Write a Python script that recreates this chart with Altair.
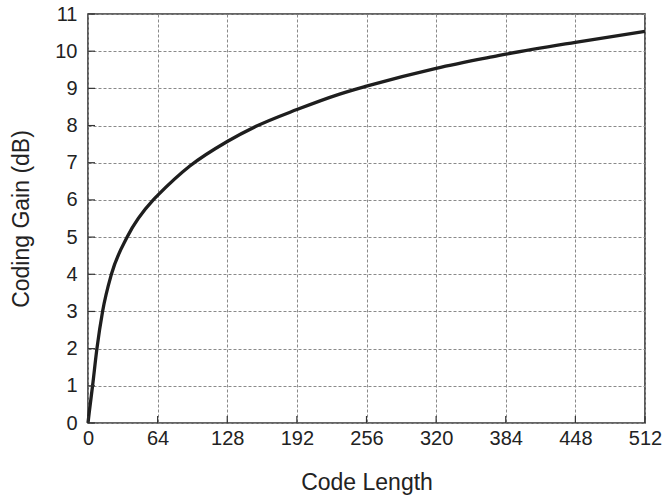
import altair as alt
import pandas as pd

code_length = [0, 1.2, 4.2, 8.2, 13.4, 21.5, 36, 60, 64, 93.6, 128, 154.5, 192, 230.6, 256, 320, 377, 384, 448, 512]
coding_gain = [0, 0.3, 1.0, 2.0, 3.0, 4.0, 5.0, 6.0, 6.12, 6.91, 7.57, 7.98, 8.43, 8.84, 9.06, 9.54, 9.88, 9.92, 10.24, 10.53]
x_ticks = [0, 64, 128, 192, 256, 320, 384, 448, 512]
y_ticks = list(range(0, 12))

df = pd.DataFrame({"N": code_length, "G": coding_gain})
xt = pd.DataFrame({"N": x_ticks})
yt = pd.DataFrame({"G": y_ticks})

font = "Liberation Sans"
W, H = 557, 409

xscale = alt.Scale(domain=[0, 512], nice=False, zero=False)
yscale = alt.Scale(domain=[0, 11], nice=False)

xaxis = alt.Axis(values=x_ticks, title="Code Length", grid=True, gridDash=[3, 2],
                 gridColor="#8a8a8a", gridWidth=1, ticks=False, domain=False,
                 labelOverlap=False, labelFlush=False,
                 labelFontSize=20, labelFont=font, labelColor="#222", labelPadding=5,
                 titleFontSize=23, titleFont=font, titleFontWeight="normal",
                 titleColor="#222", titlePadding=23)
yaxis = alt.Axis(values=y_ticks, title="Coding Gain (dB)", grid=True, gridDash=[3, 2],
                 gridColor="#8a8a8a", gridWidth=1, ticks=False, domain=False,
                 labelOverlap=False, labelFlush=False,
                 labelFontSize=20, labelFont=font, labelColor="#222", labelPadding=11,
                 titleFontSize=23, titleFont=font, titleFontWeight="normal",
                 titleColor="#222", titlePadding=21)

line = alt.Chart(df).mark_line(color="#1e1e1e", strokeWidth=3.3, interpolate="monotone").encode(
    x=alt.X("N:Q", scale=xscale, axis=xaxis),
    y=alt.Y("G:Q", scale=yscale, axis=yaxis),
)

xticks = alt.Chart(xt).mark_rule(color="#333", strokeWidth=1.2).encode(
    x=alt.X("N:Q", scale=xscale, axis=xaxis), y=alt.value(H), y2=alt.value(H - 7))
yticks = alt.Chart(yt).mark_rule(color="#333", strokeWidth=1.2).encode(
    y=alt.Y("G:Q", scale=yscale, axis=yaxis), x=alt.value(0), x2=alt.value(7))

chart = alt.layer(line, xticks, yticks).properties(
    width=W, height=H,
    autosize=alt.AutoSizeParams(type="none"),
    padding={"left": 88, "top": 14, "right": 20, "bottom": 78},
).configure_view(stroke="#333", strokeWidth=1.6)

chart.save("out.html", embed_options={"renderer": "svg", "actions": False})
